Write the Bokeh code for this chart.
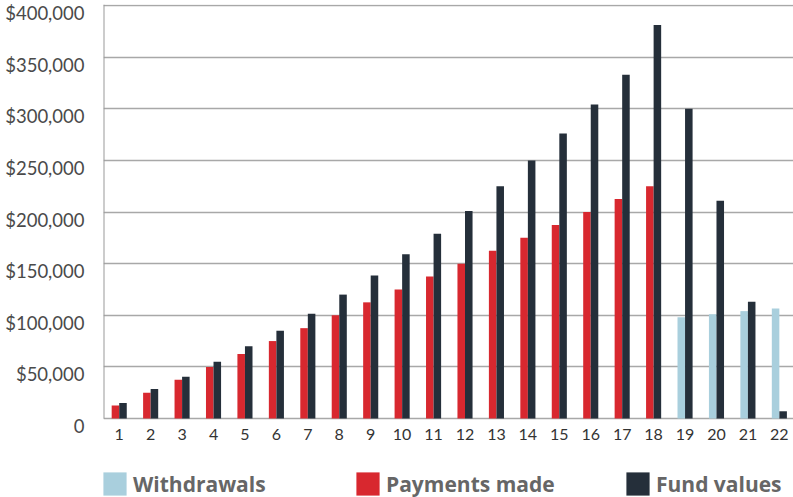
from bokeh.plotting import figure
from bokeh.models import (Range1d, LinearAxis, FixedTicker, Grid, Legend, LegendItem,
                          ColumnDataSource)
from bokeh.transform import dodge
from bokeh.embed import file_html
from bokeh.resources import INLINE

# ---- data ----
years = list(range(1, 23))
x_labels = [str(y) for y in years]

payment_years = list(range(1, 19))
payments = [12500, 25000, 37500, 50000, 62500, 75000, 87500, 100000, 112500,
            125000, 137500, 150000, 162500, 175000, 187500, 200000, 212500, 225000]

withdrawal_years = [19, 20, 21, 22]
withdrawals = [98000, 101000, 104000, 106500]

fund_values = [15000, 28500, 40500, 55000, 70000, 85000, 101500, 120000, 138500,
               159000, 179000, 201000, 225000, 250000, 276000, 304000, 333000,
               381000, 300000, 211000, 113000, 7000]

y_ticks = [0, 50000, 100000, 150000, 200000, 250000, 300000, 350000, 400000]
y_tick_labels = ["0", "$50,000", "$100,000", "$150,000", "$200,000",
                 "$250,000", "$300,000", "$350,000", "$400,000"]

series_names = ["Withdrawals", "Payments made", "Fund values"]

# ---- styles ----
RED = "#d8282f"
DARK = "#252f3a"
BLUE = "#a9cfdd"
GRID = "#a8a8a8"
AXIS = "#9a9a9a"
FONT = "Lato"
LEG_FONT = "Open Sans"

Y_BOTTOM = -76512   # room below the baseline for tick labels and legend
Y_TOP = 400968
LABEL_SHIFT = 7264  # labels sit just below their gridlines
X_AXIS_AT = -4100

p = figure(width=793, height=497, output_backend="svg", toolbar_location=None,
           x_range=Range1d(0.5, 22.45), y_range=Range1d(Y_BOTTOM, Y_TOP),
           y_axis_location=None, min_border_left=103, min_border_right=0,
           min_border_top=4, min_border_bottom=0)
p.outline_line_color = None
p.background_fill_color = "white"
p.xgrid.visible = False

p.extra_y_ranges = {"lab": Range1d(Y_BOTTOM + LABEL_SHIFT, Y_TOP + LABEL_SHIFT)}
yax = LinearAxis(y_range_name="lab", ticker=FixedTicker(ticks=y_ticks),
                 major_label_overrides={t: l for t, l in zip(y_ticks, y_tick_labels)})
yax.axis_line_color = None
yax.major_tick_line_color = None
yax.minor_tick_line_color = None
yax.major_label_standoff = 13
yax.major_label_text_font = FONT
yax.major_label_text_font_size = "18.5px"
yax.major_label_text_color = "#4a4a4a"
p.add_layout(yax, "left")

# vertical axis line, from the baseline to the top only
yline = LinearAxis(fixed_location=0.5, bounds=(0, Y_TOP), ticker=FixedTicker(ticks=[]),
                   axis_line_color=AXIS, axis_line_width=2,
                   major_tick_line_color=None, minor_tick_line_color=None,
                   major_label_text_font_size="0px")
p.add_layout(yline, "left")

grid = Grid(dimension=1, ticker=FixedTicker(ticks=y_ticks),
            grid_line_color=GRID, grid_line_width=1.5)
p.add_layout(grid)

xax = p.xaxis[0]
xax.fixed_location = X_AXIS_AT
xax.ticker = FixedTicker(ticks=years)
xax.major_label_overrides = {y: l for y, l in zip(years, x_labels)}
xax.axis_line_color = None
xax.major_tick_line_color = None
xax.minor_tick_line_color = None
xax.major_label_standoff = 0
xax.major_label_text_font = FONT
xax.major_label_text_font_size = "16px"
xax.major_label_text_color = "#333333"

src_pay = ColumnDataSource(dict(x=payment_years, top=payments))
src_wd = ColumnDataSource(dict(x=withdrawal_years, top=withdrawals))
src_fund = ColumnDataSource(dict(x=years, top=fund_values))

W = 0.24
r_pay = p.vbar(x=dodge("x", -W / 2), top="top", bottom=0, width=W, source=src_pay,
               fill_color=RED, line_color=None)
r_wd = p.vbar(x=dodge("x", -W / 2), top="top", bottom=0, width=W, source=src_wd,
              fill_color=BLUE, line_color=None)
r_fund = p.vbar(x=dodge("x", W / 2), top="top", bottom=0, width=W, source=src_fund,
                fill_color=DARK, line_color=None)

for name, rend, xloc in zip(series_names, [r_wd, r_pay, r_fund], [-3, 250, 520]):
    leg = Legend(items=[LegendItem(label=name, renderers=[rend])],
                 location=(xloc, -1), orientation="horizontal",
                 padding=0, margin=0, border_line_color=None,
                 background_fill_alpha=0, glyph_width=29, glyph_height=29,
                 label_height=29, label_standoff=4,
                 label_text_font=LEG_FONT, label_text_font_style="bold",
                 label_text_font_size="21px", label_text_color="#666666")
    p.add_layout(leg)

open("out.html", "w").write(file_html(p, INLINE))
